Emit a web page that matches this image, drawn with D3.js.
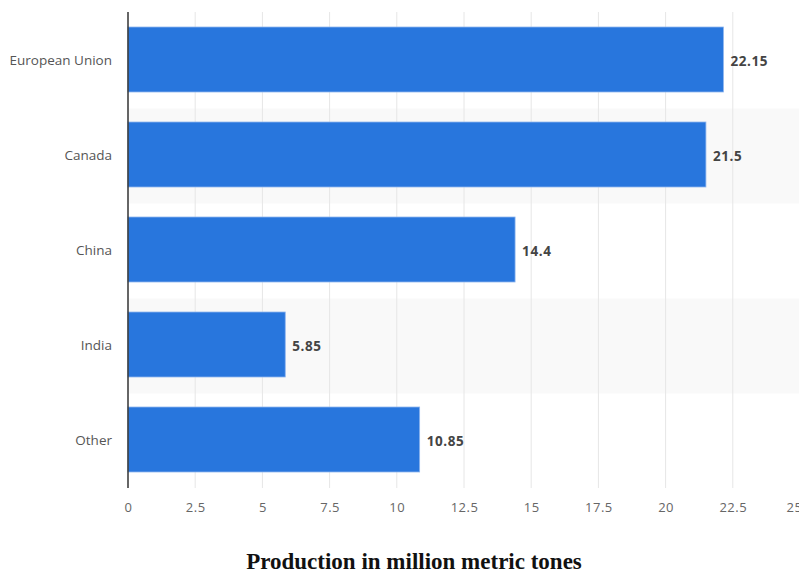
<!DOCTYPE html>
<html>
<head>
<meta charset="utf-8">
<script src="https://cdn.jsdelivr.net/npm/d3@7"></script>
<style>
  body { margin: 0; background: #fff; }
  svg { display: block; }
</style>
</head>
<body>
<div id="chart"></div>
<script>
// data
var regions = ["European Union", "Canada", "China", "India", "Other"];
var production = [22.15, 21.5, 14.4, 5.85, 10.85];
var tickValues = [0, 2.5, 5, 7.5, 10, 12.5, 15, 17.5, 20, 22.5, 25];
var axisTitle = "Production in million metric tones";

var width = 799, height = 572;
var plotLeft = 128, plotRight = 800, plotTop = 12, plotBottom = 487;

var svg = d3.select("#chart").append("svg")
  .attr("width", width)
  .attr("height", height);

var x = d3.scaleLinear().domain([0, 25]).range([plotLeft, plotRight]);
var y = d3.scaleBand().domain(regions).range([plotTop, plotBottom]).paddingInner(0.316).paddingOuter(0.158);

// shaded rows behind every second category
svg.append("g").selectAll("rect")
  .data(regions.filter(function(d, i){ return i % 2 == 1; }))
  .enter().append("rect")
  .attr("x", plotLeft)
  .attr("y", function(d){ return y(d) - y.step() * 0.158 + 1.5; })
  .attr("width", plotRight - plotLeft)
  .attr("height", y.step())
  .attr("fill", "#f9f9f9");

// gridlines
svg.append("g").selectAll("line")
  .data(tickValues.slice(1))
  .enter().append("line")
  .attr("x1", function(d){ return x(d); })
  .attr("x2", function(d){ return x(d); })
  .attr("y1", plotTop)
  .attr("y2", plotBottom + 1)
  .attr("stroke", "#e6e6e6")
  .attr("stroke-width", 1);

// bars
svg.append("g").selectAll("rect")
  .data(regions)
  .enter().append("rect")
  .attr("x", x(0))
  .attr("y", function(d){ return y(d); })
  .attr("width", function(d, i){ return x(production[i]) - x(0); })
  .attr("height", y.bandwidth())
  .attr("fill", "#2876dd")
  .attr("stroke", "#8cb4ee")
  .attr("stroke-width", 0.8);

// value labels
svg.append("g").selectAll("text")
  .data(regions)
  .enter().append("text")
  .attr("x", function(d, i){ return x(production[i]) + 7; })
  .attr("y", function(d){ return y(d) + y.bandwidth() / 2 + 1.5; })
  .attr("dy", "0.35em")
  .attr("font-family", "'Open Sans', sans-serif")
  .attr("font-weight", "bold")
  .attr("font-size", "13.5px")
  .attr("letter-spacing", "0.6px")
  .attr("fill", "#444")
  .text(function(d, i){ return production[i]; });

// category axis
var yAxis = svg.append("g")
  .attr("transform", "translate(" + plotLeft + ",1.5)")
  .call(d3.axisLeft(y).tickSize(0).tickPadding(16));
yAxis.select(".domain").remove();
yAxis.selectAll("text")
  .attr("font-family", "'Open Sans', sans-serif")
  .attr("font-size", "13.5px")
  .attr("fill", "#555");
svg.append("line")
  .attr("x1", plotLeft).attr("x2", plotLeft)
  .attr("y1", plotTop).attr("y2", plotBottom + 1)
  .attr("stroke", "#333")
  .attr("stroke-width", 1.5);

// value axis
var xAxis = svg.append("g")
  .attr("transform", "translate(0," + (plotBottom + 1) + ")")
  .call(d3.axisBottom(x).tickValues(tickValues).tickSize(0).tickPadding(15).tickFormat(d3.format("")));
xAxis.select(".domain").remove();
xAxis.selectAll("text")
  .attr("font-family", "'Open Sans', sans-serif")
  .attr("font-size", "13px")
  .attr("letter-spacing", "0.5px")
  .attr("fill", "#666");
// last label sits against the right edge, as in the reference
xAxis.selectAll(".tick").filter(function(d){ return d == 25; })
  .select("text").attr("dx", "-6");

svg.append("text")
  .attr("x", 414)
  .attr("y", 569)
  .attr("text-anchor", "middle")
  .attr("font-family", "'Liberation Serif', 'Times New Roman', serif")
  .attr("font-weight", "bold")
  .attr("font-size", "23px")
  .attr("fill", "#111")
  .text(axisTitle);
</script>
</body>
</html>
